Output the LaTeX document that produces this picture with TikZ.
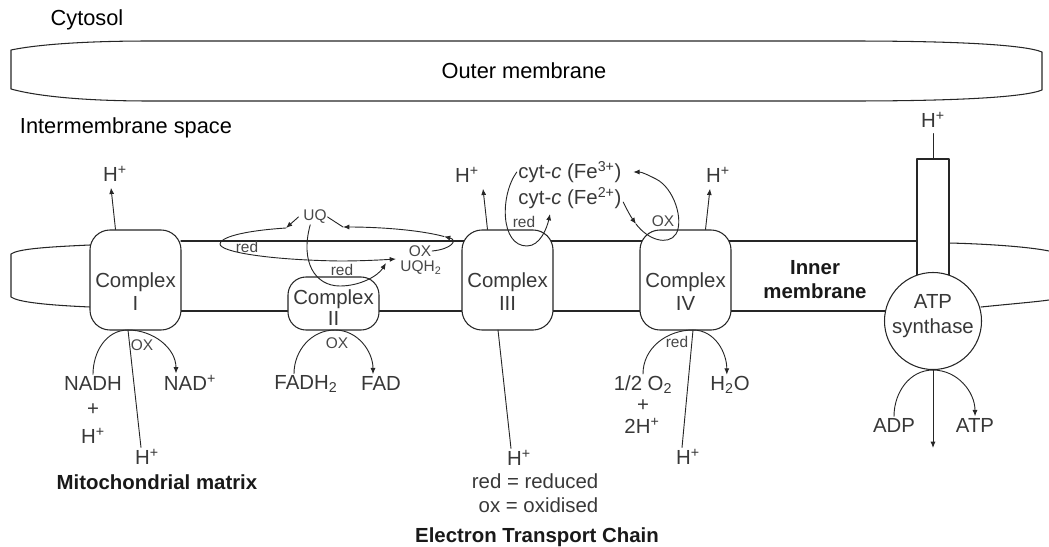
\documentclass[tikz,border=0pt]{standalone}
\usepackage{fontspec}
\setmainfont{Liberation Sans}
\usetikzlibrary{arrows.meta,positioning}
\newcommand{\chemfont}{\fontsize{14.5}{16.5}\selectfont}
\newcommand{\tagfont}{\fontsize{11}{12}\selectfont}
\newcommand{\regfont}{\fontsize{15.5}{18}\selectfont}
\newcommand{\hdfont}{\fontsize{14.5}{17.5}\selectfont\bfseries}
\newcommand{\Hp}{H\textsuperscript{+}}

\begin{document}
\begin{tikzpicture}[x=0.025cm, y=0.025cm, line join=round, line cap=round,
  >={Latex[length=4.5pt,width=3.6pt]},
  mem/.style={draw=black!85, line width=0.75pt},
  cplx/.style={mem, fill=white, rounded corners=0.5cm, minimum width=2.275cm, minimum height=2.5cm, inner sep=0pt},
  txt/.style={text=black!78, font=\chemfont, inner sep=1pt},
  hion/.style={txt, inner sep=4pt},
  tag/.style={text=black!72, font=\tagfont, inner sep=0.5pt},
  region/.style={text=black, font=\regfont, inner sep=1pt},
  hd/.style={text=black!90, font=\hdfont, inner sep=1pt},
  flow/.style={draw=black!85, line width=0.65pt, ->},
  link/.style={draw=black!85, line width=0.65pt}]

\useasboundingbox (0,0) rectangle (1049,-546);

% outer membrane
\draw[mem] (11,-50) .. controls (40,-44) and (90,-41) .. (150,-41) -- (850,-41)
  .. controls (960,-41) and (1025,-45) .. (1042,-52) -- (1042,-90)
  .. controls (1025,-97) and (960,-101) .. (850,-101) -- (150,-101)
  .. controls (90,-101) and (40,-97) .. (11,-89) -- cycle;

% inner membrane
\draw[mem] (90,-245) .. controls (45,-247) and (18,-249) .. (11,-254) -- (11,-297)
  .. controls (18,-302) and (45,-305) .. (90,-307);
\draw[mem] (181,-241) -- (917,-241);
\draw[mem] (181,-311) -- (900,-311);
\draw[mem] (949,-243) .. controls (990,-244) and (1030,-247) .. (1049,-251);
\draw[mem] (981,-307) .. controls (1010,-304) and (1035,-302) .. (1049,-300);

% complexes
\node[cplx] (c1) at (135.5,-280) {};
\node[cplx, minimum height=1.325cm, rounded corners=0.45cm] (c2) at (333.5,-303.5) {};
\node[cplx] (c3) at (507.5,-280) {};
\node[cplx] (c4) at (685.5,-280) {};
\node[txt, align=center] at (135.5,-291.5) {Complex\\I};
\node[txt, align=center] at (333.5,-307.5) {Complex\\[-1.5pt]II};
\node[txt, align=center] at (507.5,-291.5) {Complex\\III};
\node[txt, align=center] at (685.5,-291.5) {Complex\\IV};

% ATP synthase
\draw[mem, fill=white] (917,-285) -- (917,-159) -- (949,-159) -- (949,-285);
\node[mem, circle, fill=white, minimum size=2.425cm, inner sep=0pt] (atp) at (933,-321) {};
\node[txt, align=center] at (933,-316.5) {ATP\\[1.2pt]synthase};
\coordinate (stk) at (933,-159);
\node[hion] (h5) at (933,-120) {\Hp};
\draw[link] (h5.south) -- (stk);

% protons pumped out
\node[hion] (h1) at (115,-174) {\Hp};
\node[hion] (h3) at (467,-175) {\Hp};
\node[hion] (h4) at (718,-175) {\Hp};
\draw[flow] ([xshift=-0.5cm]c1.north) -- ([xshift=-0.1cm]h1.south);
\draw[flow] ([xshift=-0.5cm]c3.north) -- ([xshift=0.4cm]h3.south);
\draw[flow] ([xshift=0.5cm]c4.north) -- ([xshift=-0.2cm]h4.south);

% ubiquinone cycle
\node[tag] (uq) at (315,-217) {UQ};
\node[tag] (uqox) at (420,-251) {OX};
\node[tag] (uqh) at (421,-268) {UQH\textsubscript{2}};
\node[tag] at (247,-247) {red};
\node[tag] at (342,-270) {red};
\coordinate (q1) at (444,-236.5);
\coordinate (q2) at (343,-227);
\coordinate (q3) at (286,-228);
\coordinate (q4) at (396,-259);
\coordinate (q5) at (386,-263);
\draw[flow] (uqox.east) .. controls (452,-249) and (458,-240) .. (q1);
\draw[flow] (q1) .. controls (420,-230) and (380,-227) .. (q2);
\draw[link] (q2) -- (uq.east);
\draw[flow] ([xshift=-0.1cm]uq.west) -- (q3);
\draw[flow] (q3) .. controls (240,-231) and (220,-238) .. (220,-244)
  .. controls (220,-252) and (270,-260) .. (340,-261)
  .. controls (360,-261) and (380,-260) .. (q4);
\draw[flow] ([xshift=-0.12cm]uq.south) .. controls (300,-262) and (315,-286) .. (340,-286)
  .. controls (360,-286) and (378,-276) .. (q5);

% cytochrome c
\node[txt] (fe3) at (570,-172) {cyt-\textit{c} (Fe\textsuperscript{3+})};
\node[txt] (fe2) at (570,-198) {cyt-\textit{c} (Fe\textsuperscript{2+})};
\node[tag] at (524,-222) {red};
\node[tag] at (663,-221) {OX};
\coordinate (m4) at (636,-224);
\draw[flow] (fe3.west) .. controls (500,-195) and (500,-246) .. (527,-246)
  .. controls (540,-246) and (547,-228) .. (550,-214);
\draw[flow] ([yshift=-0.1cm]fe2.east) .. controls (627,-210) and (631,-217) .. (m4);
\draw[flow] (m4) .. controls (648,-240) and (668,-246) .. (676,-234)
  .. controls (684,-220) and (674,-188) .. (656,-179)
  .. controls (648,-175) and (642,-172) .. ([xshift=0.25cm]fe3.east);

% matrix side, complex I
\node[txt] (nadh) at (93,-383) {NADH};
\node[txt] (nadp) at (190,-383) {NAD\textsuperscript{+}};
\node[txt] (plus1) at (93,-410) {+};
\node[txt] (hm1) at (93,-436) {\Hp};
\node[txt] (h1b) at (147,-457) {\Hp};
\node[tag] at (142,-345) {OX};
\coordinate (p1) at (128,-330);
\draw[flow] (nadh.north) to[out=90,in=180] (p1) to[out=0,in=90] ([xshift=-0.35cm]nadp.north);
\draw[link] (p1) -- ([xshift=-0.15cm]h1b.north);

% complex II
\node[txt] (fadh) at (306,-384) {FADH\textsubscript{2}};
\node[txt] (fad) at (381,-383) {FAD};
\node[tag] at (337,-343) {OX};
\coordinate (p2) at (335,-330);
\draw[flow] ([xshift=-0.3cm]fadh.north) to[out=90,in=180] (p2) to[out=0,in=90] ([xshift=-0.2cm]fad.north);

% complex III
\coordinate (p3) at (498,-330);
\node[txt] (h3b) at (519,-458) {\Hp};
\draw[link] (p3) -- ([xshift=-0.2cm]h3b.north);

% complex IV
\node[txt, inner sep=0pt] (o2) at (643,-385) {1/2 O\textsubscript{2}};
\node[txt, inner sep=0pt] (plus4) at (643,-406) {+};
\node[txt, inner sep=0pt] (h2p) at (642,-426) {2\Hp};
\node[txt] (h2o) at (730,-385) {H\textsubscript{2}O};
\node[txt] (h4b) at (688,-457) {\Hp};
\node[tag] at (677,-342) {red};
\coordinate (p4) at (693,-330);
\draw[flow] ([yshift=0.05cm]o2.north) to[out=90,in=180] (p4) to[out=0,in=90] ([xshift=-0.08cm]h2o.north);
\draw[link] (p4) -- ([xshift=-0.15cm]h4b.north);

% ATP synthase, matrix side
\node[txt] (adp) at (894,-425) {ADP};
\node[txt] (atpo) at (975,-425) {ATP};
\coordinate (pout) at (933,-448);
\draw[flow] (adp.north) to[out=90,in=180] (atp.south) to[out=0,in=90] (atpo.north);
\draw[flow] (atp.south) -- (pout);

% region labels
\node[region] (cyto) at (87,-20) {Cytosol};
\node[region] (outer) at (524,-71) {Outer membrane};
\node[region] (ims) at (126,-128) {Intermembrane space};
\node[hd, align=center] (inner) at (815,-279.5) {Inner\\membrane};
\node[hd] (matrix) at (157,-482) {Mitochondrial matrix};
\node[txt, align=right, anchor=east] (legend) at (600,-493) {red = reduced\\[0.5pt]ox = oxidised};
\node[hd] (etc) at (537,-537) {Electron Transport Chain};
\end{tikzpicture}
\end{document}
